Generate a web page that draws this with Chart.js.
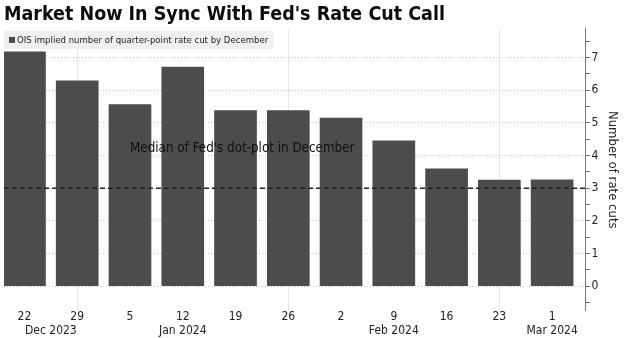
<!DOCTYPE html>
<html><head><meta charset="utf-8">
<script src="https://cdn.jsdelivr.net/npm/chart.js@4/dist/chart.umd.min.js"></script>
<style>html,body{margin:0;padding:0;background:#fff;} #wrap{width:630px;height:338px;position:relative;}</style>
</head><body><div id="wrap"><canvas id="c"></canvas></div>
<script>
// ---- data ----
const weekDays = ['22', '29', '5', '12', '19', '26', '2', '9', '16', '23', '1'];
const monthLabels = ['Dec 2023', 'Jan 2024', 'Feb 2024', 'Mar 2024'];
const monthLabelAt = [0.5, 3, 7, 10];
const rateCuts = [7.18, 6.29, 5.56, 6.71, 5.38, 5.38, 5.15, 4.45, 3.59, 3.25, 3.26];
const monthEndWeeks = [1, 5, 9];
const dotPlotMedian = 3;
const yTickValues = [-0.5, 0, 0.5, 1, 1.5, 2, 2.5, 3, 3.5, 4, 4.5, 5, 5.5, 6, 6.5, 7, 7.5];
const seriesName = 'OIS implied number of quarter-point rate cut by December';
const annotationText = "Median of Fed's dot-plot in December";
const chartTitle = "Market Now In Sync With Fed's Rate Cut Call";
const yTitle = 'Number of rate cuts';

// ---- layout/style ----
const FONT = "'DejaVu Sans Condensed', 'DejaVu Sans', sans-serif";
const BAR_COLOR = '#4c4c4c';
const X_MIN = -0.3875, X_MAX = 10.633;
const Y_MIN = -0.75, Y_MAX = 7.88;

const legendBox = {
  id: 'legendBox',
  beforeDatasetsDraw(chart) {
    const c = chart.ctx, a = chart.chartArea;
    c.save();
    c.font = "9.5px " + FONT;
    const tw = c.measureText(seriesName).width;
    const x0 = a.left, y0 = a.top + 2;
    c.fillStyle = '#efefef';
    c.fillRect(x0, y0, tw + 18, 18);
    c.fillStyle = BAR_COLOR;
    c.fillRect(x0 + 5, y0 + 6, 6, 6);
    c.fillStyle = '#222';
    c.textBaseline = 'middle';
    c.textAlign = 'left';
    c.fillText(seriesName, x0 + 13, y0 + 9.5);
    c.restore();
  }
};
const annotation = {
  id: 'annotation',
  afterDatasetsDraw(chart) {
    const c = chart.ctx;
    const x = chart.scales.x.getPixelForValue(2);
    const y = chart.scales.y.getPixelForValue(4.2);
    c.save();
    c.font = "13.3px " + FONT;
    c.fillStyle = '#111';
    c.textBaseline = 'middle';
    c.textAlign = 'left';
    c.fillText(annotationText, x, y);
    c.restore();
  }
};

new Chart(document.getElementById('c'), {
  type: 'bar',
  data: {
    datasets: [
      {
        type: 'bar', label: seriesName,
        data: rateCuts.map((v, i) => ({ x: i, y: v })),
        backgroundColor: BAR_COLOR, borderWidth: 0, barThickness: 42, order: 2
      },
      {
        type: 'line', label: 'median',
        data: [{ x: X_MIN, y: dotPlotMedian }, { x: X_MAX, y: dotPlotMedian }],
        borderColor: '#222', borderWidth: 1.5, borderDash: [5, 3], pointRadius: 0, order: 1
      }
    ]
  },
  options: {
    responsive: true, maintainAspectRatio: false, animation: false,
    layout: { padding: { left: 4, right: 6, top: 0, bottom: 1 } },
    plugins: {
      title: {
        display: true, text: chartTitle, align: 'start', color: '#0d0d0d',
        font: { family: FONT, size: 19.5, weight: 'bold' }, padding: { top: 3, bottom: 2.5 }
      },
      legend: { display: false },
      tooltip: { enabled: false }
    },
    scales: {
      x: {
        type: 'linear', position: 'bottom', min: X_MIN, max: X_MAX, weight: 0, offset: false,
        afterBuildTicks: (s) => { s.ticks = weekDays.map((_, i) => ({ value: i })); },
        ticks: {
          autoSkip: false, maxRotation: 0, padding: 0, color: '#222',
          font: { family: FONT, size: 12, lineHeight: 1.1 },
          callback: (v, i) => weekDays[i]
        },
        grid: {
          drawTicks: false, offset: false,
          color: (ctx) => (ctx.tick && monthEndWeeks.includes(ctx.tick.value)) ? '#e6e6e6' : 'rgba(0,0,0,0)'
        },
        border: { display: false }
      },
      x2: {
        type: 'linear', position: 'bottom', min: X_MIN, max: X_MAX, weight: 1, offset: false,
        afterBuildTicks: (s) => { s.ticks = monthLabelAt.map((p) => ({ value: p })); },
        ticks: {
          autoSkip: false, maxRotation: 0, padding: 0, color: '#222',
          font: { family: FONT, size: 12, lineHeight: 1.1 },
          callback: (v, i) => monthLabels[i]
        },
        grid: { display: false, drawTicks: false, offset: false },
        border: { display: false }
      },
      y: {
        type: 'linear', position: 'right', min: Y_MIN, max: Y_MAX,
        afterBuildTicks: (s) => { s.ticks = yTickValues.map((v) => ({ value: v })); },
        ticks: {
          padding: 2, color: '#222', font: { family: FONT, size: 12 },
          callback: (v) => Number.isInteger(v) ? String(v) : ''
        },
        grid: {
          color: (ctx) => (ctx.tick && Number.isInteger(ctx.tick.value)) ? '#c4c4c4' : 'rgba(0,0,0,0)',
          tickColor: '#666', tickLength: 4, tickWidth: 1, tickBorderDash: []
        },
        border: { display: true, color: '#777', width: 1, dash: [1, 2] },
        title: {
          display: true, text: yTitle, color: '#222',
          font: { family: FONT, size: 13 }, padding: { top: 4, bottom: 4 }
        }
      }
    }
  },
  plugins: [legendBox, annotation]
});
</script>
</body></html>
